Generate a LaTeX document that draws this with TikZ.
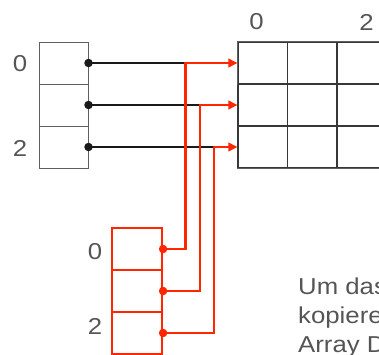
\documentclass[tikz,border=0pt]{standalone}
\usepackage{fontspec}
\setmainfont{Liberation Sans}[FakeStretch=1.12]
\usetikzlibrary{arrows.meta}
\definecolor{myred}{RGB}{255,38,0}
\definecolor{txtgrey}{RGB}{85,85,85}
\definecolor{bordergrey}{RGB}{95,95,95}
\definecolor{gridline}{RGB}{55,55,55}
\definecolor{blk}{RGB}{25,25,25}
\tikzset{
  lcell/.style={draw=bordergrey, line width=1pt, minimum width=49pt, minimum height=42pt, inner sep=0pt},
  rcell/.style={draw=gridline, line width=1.1pt, minimum width=49.5pt, minimum height=42pt, inner sep=0pt},
  ccell/.style={draw=myred, line width=2.2pt, minimum width=50pt, minimum height=42pt, inner sep=0pt},
  idx/.style={font=\fontsize{23}{26}\selectfont, text=txtgrey, inner sep=0pt},
  body/.style={font=\fontsize{23}{29}\selectfont, text=txtgrey, inner sep=0pt, anchor=base west},
  blkline/.style={draw=blk, line width=2.5pt},
  redline/.style={draw=myred, line width=2.5pt},
  redarrow/.style={redline, -{Triangle[length=9pt,width=8.5pt]}},
  bdot/.style={circle, fill=blk, inner sep=0pt, minimum size=8.5pt},
  rdot/.style={circle, fill=myred, inner sep=0pt, minimum size=8.5pt}
}
\begin{document}
\begin{tikzpicture}[x=1pt,y=-1pt]
\useasboundingbox (0,0) rectangle (379,354);
\clip (0,0) rectangle (379,354);
% left array
\node[lcell] (L0) at (63.5,63) {};
\node[lcell] (L1) at (63.5,105) {};
\node[lcell] (L2) at (63.5,147) {};
\node[idx] (l0) at (20,64) {0};
\node[idx] (l2) at (20,148) {2};
% right array
\foreach \r/\y in {0/63,1/105,2/147}{
  \foreach \c/\x in {0/262.75,1/312.25,2/361.75}{
    \node[rcell] (R\r\c) at (\x,\y) {};
  }
}
\draw[draw=bordergrey, line width=1.3pt] (R00.south west) -- (R00.north west) -- (R02.north east);
\draw[draw=bordergrey, line width=1.3pt] (R20.south west) -- (R22.south east);
\node[idx] (r0) at (256.5,22) {0};
\node[idx] (r2) at (366.5,22) {2};
% red array
\node[ccell] (C0) at (137,249) {};
\node[ccell] (C1) at (137,291) {};
\node[ccell] (C2) at (137,333) {};
\node[idx] (c0) at (95,252) {0};
\node[idx] (c2) at (95,326) {2};
% junctions
\coordinate (j0) at (185.5,63);
\coordinate (j1) at (200,105);
\coordinate (j2) at (214,147);
% black connectors
\draw[blkline] (L0.east) -- (j0);
\draw[blkline] (L1.east) -- (j1);
\draw[blkline] (L2.east) -- (j2);
% red connectors
\draw[redarrow] (C0.east) -| (j0) -- (R00.west);
\draw[redarrow] (C1.east) -| (j1) -- (R10.west);
\draw[redarrow] (C2.east) -| (j2) -- (R20.west);
% dots
\node[bdot] (d0) at (L0.east) {};
\node[bdot] (d1) at (L1.east) {};
\node[bdot] (d2) at (L2.east) {};
\node[rdot] (e0) at (C0.east) {};
\node[rdot] (e1) at (C1.east) {};
\node[rdot] (e2) at (C2.east) {};
% text
\node[body] (t1) at (298,294) {Um das};
\node[body] (t2) at (298,323) {kopiere};
\node[body] (t3) at (298,352) {Array D};
\end{tikzpicture}
\end{document}
